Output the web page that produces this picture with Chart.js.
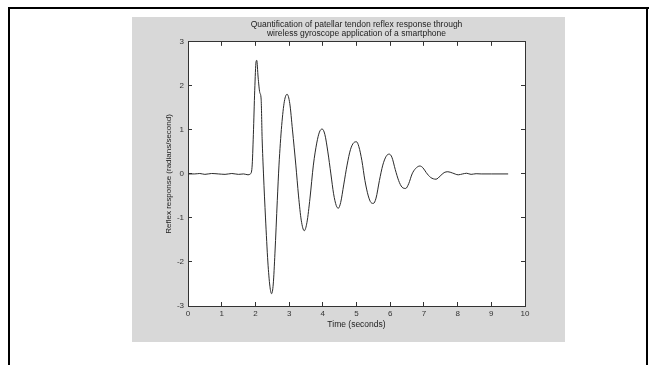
<!DOCTYPE html>
<html>
<head>
<meta charset="utf-8">
<script src="https://cdn.jsdelivr.net/npm/chart.js@4.4.1/dist/chart.umd.min.js"></script>
<style>
  html, body { margin: 0; padding: 0; background: #fff; }
  canvas { display: block; }
</style>
</head>
<body>
<canvas id="chart-1" width="649" height="365"></canvas>
<script>
// values
const timeValues = [0, 0.2, 0.35, 0.5, 0.7, 0.9, 1.1, 1.3, 1.5, 1.65, 1.78, 1.85, 1.9, 1.94, 1.98, 2.02, 2.04, 2.08, 2.13, 2.17, 2.2, 2.24, 2.3, 2.37, 2.43, 2.48, 2.53, 2.58, 2.65, 2.7, 2.78, 2.86, 2.94, 3.02, 3.1, 3.2, 3.28, 3.36, 3.45, 3.53, 3.62, 3.72, 3.82, 3.9, 3.98, 4.06, 4.15, 4.24, 4.32, 4.4, 4.46, 4.53, 4.62, 4.72, 4.82, 4.92, 5.0, 5.07, 5.16, 5.25, 5.35, 5.43, 5.5, 5.58, 5.68, 5.78, 5.88, 5.97, 6.05, 6.15, 6.25, 6.35, 6.46, 6.55, 6.65, 6.75, 6.88, 6.97, 7.07, 7.2, 7.36, 7.48, 7.6, 7.71, 7.85, 8.02, 8.15, 8.27, 8.4, 8.55, 8.7, 9.0, 9.5];
const responseValues = [0, 0, 0.01, -0.01, 0.01, 0, -0.01, 0.01, -0.01, 0, -0.02, 0, 0.15, 0.9, 1.9, 2.55, 2.58, 2.2, 1.85, 1.7, 0.8, 0, -1.0, -2.0, -2.55, -2.72, -2.5, -1.8, -0.6, 0.2, 1.1, 1.65, 1.81, 1.6, 1.0, 0.2, -0.5, -1.05, -1.29, -1.1, -0.55, 0.2, 0.7, 0.95, 1.02, 0.9, 0.5, 0, -0.45, -0.72, -0.78, -0.65, -0.25, 0.2, 0.55, 0.71, 0.73, 0.62, 0.3, -0.15, -0.5, -0.65, -0.67, -0.55, -0.15, 0.2, 0.4, 0.45, 0.38, 0.1, -0.15, -0.3, -0.33, -0.22, 0, 0.12, 0.18, 0.14, 0.03, -0.08, -0.12, -0.05, 0.03, 0.05, 0.02, -0.02, 0, 0.015, -0.01, 0.005, 0, 0, 0];
const xTicks = [0, 10];
const yTicks = [-3, 3];
const titleLines = ['Quantification of patellar tendon reflex response through', 'wireless gyroscope application of a smartphone'];

const points = timeValues.map((t, i) => ({ x: t, y: responseValues[i] }));

const ink = '#333';
const font = { family: '"Liberation Sans", Arial, sans-serif', size: 8 };

// page frame, grey figure panel and white axes box
const backdrop = {
  id: 'backdrop',
  beforeDraw(chart) {
    const c = chart.ctx;
    const a = chart.chartArea;
    c.save();
    c.fillStyle = '#fff';
    c.fillRect(0, 0, chart.width, chart.height);
    c.fillStyle = '#000';
    c.fillRect(8, 7, 641, 2);
    c.fillRect(8, 7, 2, 358);
    c.fillRect(646, 7, 2, 358);
    c.fillStyle = '#d8d8d8';
    c.fillRect(132, 17, 433, 325);
    c.fillStyle = '#fff';
    c.fillRect(a.left, a.top, a.right - a.left, a.bottom - a.top);
    c.restore();
  }
};

const inwardGrid = { drawOnChartArea: false, tickLength: -4, color: ink, lineWidth: 1 };
const axisBorder = { display: true, color: ink, width: 1 };

new Chart(document.getElementById('chart-1'), {
  type: 'line',
  data: {
    datasets: [{
      data: points,
      borderColor: '#2a2a2a',
      borderWidth: 1,
      pointRadius: 0,
      cubicInterpolationMode: 'monotone',
      fill: false
    }]
  },
  options: {
    responsive: false,
    animation: false,
    layout: { padding: { left: 140, right: 124, top: 20, bottom: 23 } },
    plugins: {
      legend: { display: false },
      tooltip: { enabled: false },
      title: {
        display: true,
        fullSize: false,
        text: titleLines,
        color: '#222',
        font: { family: font.family, size: 8.5, lineHeight: 1.05, weight: 'normal' },
        padding: { top: 0, bottom: 4 }
      }
    },
    scales: {
      x: {
        type: 'linear',
        min: xTicks[0], max: xTicks[1],
        ticks: { stepSize: 1, color: ink, font: font, padding: 7, maxRotation: 0 },
        grid: inwardGrid,
        border: axisBorder,
        title: { display: true, text: 'Time (seconds)', color: '#222', font: { family: font.family, size: 8.5 }, padding: { top: 0, bottom: 12 } },
        afterFit(s) { s.height = 36; }
      },
      y: {
        type: 'linear',
        min: yTicks[0], max: yTicks[1],
        ticks: { stepSize: 1, color: ink, font: font, padding: 8 },
        grid: inwardGrid,
        border: axisBorder,
        title: { display: true, text: 'Reflex response (radians/second)', color: '#222', font: { family: font.family, size: 8 }, padding: { top: 24, bottom: 0 } },
        afterFit(s) { s.width = 48; }
      },
      x2: {
        type: 'linear',
        position: 'top',
        min: xTicks[0], max: xTicks[1],
        ticks: { stepSize: 1, display: false },
        grid: inwardGrid,
        border: axisBorder,
        afterFit(s) { s.height = 0; }
      },
      y2: {
        type: 'linear',
        position: 'right',
        min: yTicks[0], max: yTicks[1],
        ticks: { stepSize: 1, display: false },
        grid: inwardGrid,
        border: axisBorder,
        afterFit(s) { s.width = 0; }
      }
    }
  },
  plugins: [backdrop]
});
</script>
</body>
</html>
